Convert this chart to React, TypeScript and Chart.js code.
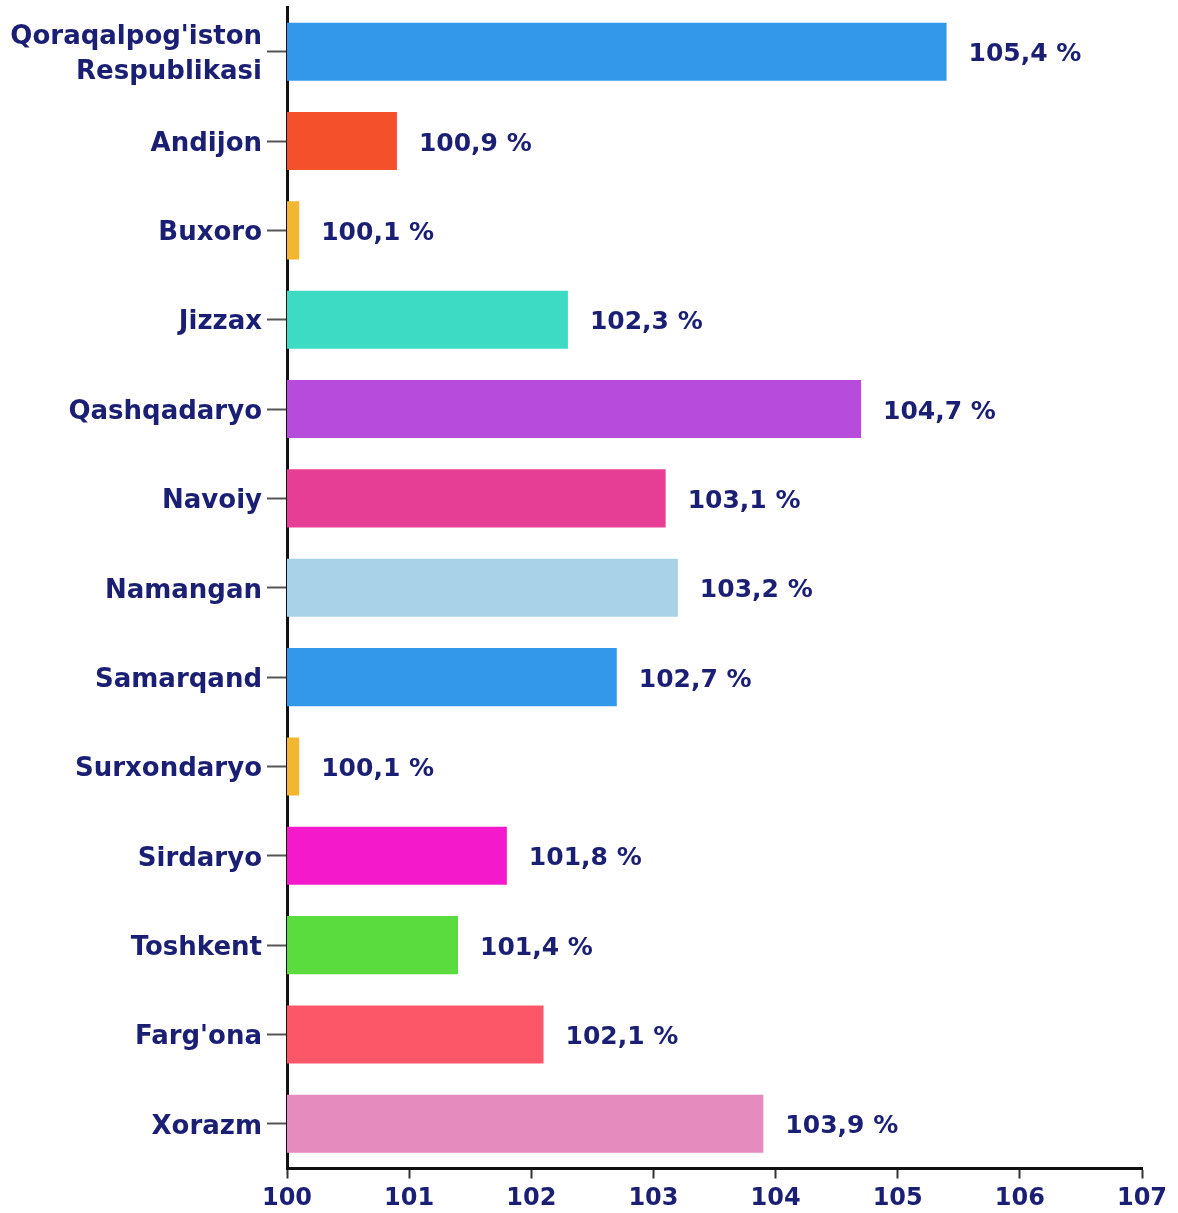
import React, { useEffect, useRef } from 'react';
import { Chart, registerables } from 'chart.js';

Chart.register(...registerables);

const categories: (string | string[])[] = [
  ["Qoraqalpog'iston", 'Respublikasi'],
  'Andijon',
  'Buxoro',
  'Jizzax',
  'Qashqadaryo',
  'Navoiy',
  'Namangan',
  'Samarqand',
  'Surxondaryo',
  'Sirdaryo',
  'Toshkent',
  "Farg'ona",
  'Xorazm',
];

const values = [105.4, 100.9, 100.1, 102.3, 104.7, 103.1, 103.2, 102.7, 100.1, 101.8, 101.4, 102.1, 103.9];

const barColors = [
  '#3498EA', '#F4502C', '#F2B631', '#3DDBC3', '#B64BDC', '#E63E95', '#A9D1E7',
  '#3498EA', '#F2B631', '#F41ACB', '#5ADC3E', '#FC5768', '#E58BBE',
];

const xMin = 100;
const xMax = 107;
const xStep = 1;

const TEXT = '#1A1F73';
const FONT = '"DejaVu Sans", sans-serif';

const valueLabels = {
  id: 'valueLabels',
  afterDatasetsDraw(chart: any) {
    const ctx = chart.ctx;
    const meta = chart.getDatasetMeta(0);
    ctx.save();
    ctx.font = `bold 25px ${FONT}`;
    ctx.fillStyle = TEXT;
    ctx.textAlign = 'left';
    ctx.textBaseline = 'middle';
    meta.data.forEach((bar: any, i: number) => {
      const txt = values[i].toFixed(1).replace('.', ',') + ' %';
      ctx.fillText(txt, bar.x + 22, bar.y + 3);
    });
    ctx.restore();
  },
};

export default function App() {
  const ref = useRef<HTMLCanvasElement>(null);
  useEffect(() => {
    if (!ref.current) return;
    const chart = new Chart(ref.current, {
      type: 'bar',
      data: {
        labels: categories as any,
        datasets: [
          {
            data: values,
            backgroundColor: barColors,
            borderWidth: 0,
            barPercentage: 0.65,
            categoryPercentage: 1,
          },
        ],
      },
      options: {
        indexAxis: 'y',
        responsive: false,
        animation: false,
        layout: { padding: { top: 7, right: 36, left: 0, bottom: 0 } },
        plugins: { legend: { display: false }, tooltip: { enabled: false } },
        scales: {
          x: {
            min: xMin,
            max: xMax,
            z: 1,
            ticks: {
              stepSize: xStep,
              padding: 6,
              color: TEXT,
              font: { family: FONT, size: 24, weight: 'bold' },
            },
            grid: {
              drawOnChartArea: false,
              drawTicks: true,
              tickLength: 10,
              tickColor: '#333',
              tickWidth: 2,
              offset: false,
            },
            border: { display: true, color: '#111', width: 3 },
            afterFit: (s: any) => {
              s.height = 44.5;
              s.paddingLeft = 0;
              s.paddingRight = 0;
            },
          },
          y: {
            z: 1,
            ticks: {
              padding: 5,
              labelOffset: 3,
              color: TEXT,
              font: { family: FONT, size: 26, weight: 'bold', lineHeight: 1.32 },
            },
            grid: {
              drawOnChartArea: false,
              drawTicks: true,
              tickLength: 20,
              tickColor: '#555',
              tickWidth: 2,
              offset: false,
            },
            border: { display: true, color: '#111', width: 3 },
            afterFit: (s: any) => {
              s.width = 287;
              s.paddingTop = 0;
              s.paddingBottom = 0;
            },
          },
        },
      },
      plugins: [valueLabels],
    });
    return () => chart.destroy();
  }, []);
  return (
    <div style={{ position: 'absolute', left: 0, top: 0, width: 1178, height: 1213, background: '#fff' }}>
      <canvas ref={ref} width={1178} height={1213} />
    </div>
  );
}
